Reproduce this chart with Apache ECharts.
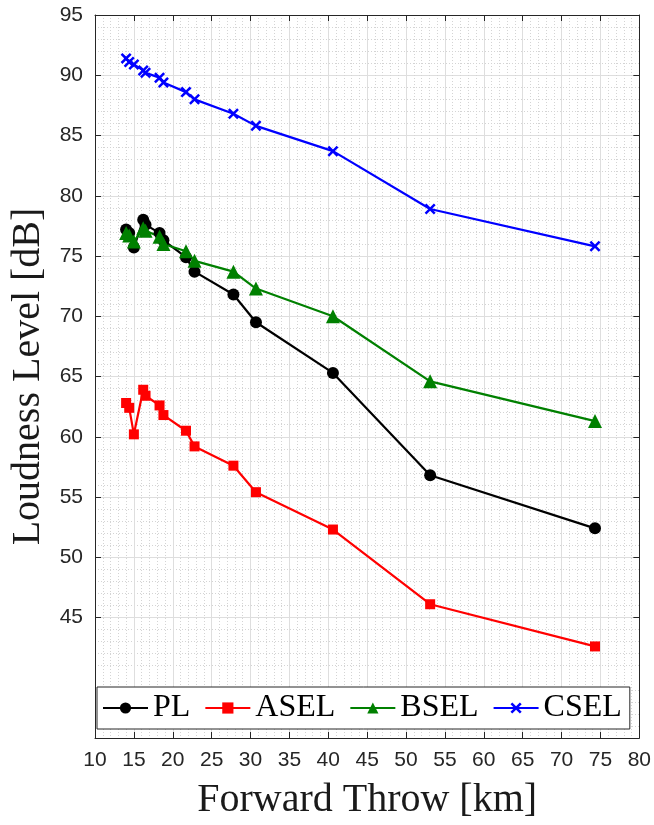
<!DOCTYPE html>
<html>
<head>
<meta charset="utf-8">
<script src="https://cdn.jsdelivr.net/npm/echarts@6/dist/echarts.min.js"></script>
<style>
  html, body { margin: 0; padding: 0; background: #ffffff; }
  #chart { width: 654px; height: 825px; }
</style>
</head>
<body>
<div id="chart"></div>
<script>
// Forward throw distance of each measurement station [km]
const throwKm = [14.0, 14.4, 15.0, 16.2, 16.5, 18.3, 18.8, 21.7, 22.8, 27.8, 30.7, 40.6, 53.1, 74.3];

// Loudness metrics at each station [dB]
const plValues   = [77.2, 76.9, 75.7, 78.0, 77.6, 76.9, 76.3, 74.9, 73.7, 71.8, 69.5, 65.3, 56.8, 52.4];
const aselValues = [62.8, 62.4, 60.2, 63.9, 63.4, 62.6, 61.8, 60.5, 59.2, 57.6, 55.4, 52.3, 46.1, 42.6];
const bselValues = [76.9, 76.7, 76.2, 77.3, 77.1, 76.6, 76.0, 75.4, 74.6, 73.7, 72.3, 70.0, 64.6, 61.3];
const cselValues = [91.4, 91.1, 90.9, 90.4, 90.2, 89.8, 89.4, 88.6, 88.0, 86.8, 85.8, 83.7, 78.9, 75.8];

const seriesNames = ['PL', 'ASEL', 'BSEL', 'CSEL'];

// Tick values shown on the axes
const xTickValues = [10, 15, 20, 25, 30, 35, 40, 45, 50, 55, 60, 65, 70, 75, 80];
const yTickValues = [45, 50, 55, 60, 65, 70, 75, 80, 85, 90, 95];

const axisColor = '#262626';
const sansFont = '"Liberation Sans", Arial, sans-serif';
const serifFont = '"Liberation Serif", "Times New Roman", serif';

// Filled "x" glyph used as the CSEL marker
const crossSymbol = 'path://M0,1.6L1.6,0L5,3.4L8.4,0L10,1.6L6.6,5L10,8.4L8.4,10L5,6.6L1.6,10L0,8.4L3.4,5Z';

function pairs(xs, ys) {
  return xs.map((x, i) => [x, ys[i]]);
}

function makeSeries(name, values, color, symbol, size) {
  return {
    name: name,
    type: 'line',
    data: pairs(throwKm, values),
    xAxisIndex: 0,
    yAxisIndex: 0,
    symbol: symbol,
    symbolSize: size,
    showAllSymbol: true,
    lineStyle: { color: color, width: 2.2 },
    itemStyle: { color: color, borderWidth: 0 },
    emphasis: { disabled: true },
    z: 3
  };
}

const baseX = {
  type: 'value',
  min: 10,
  max: 80,
  interval: 5,
  axisLine: { show: true, onZero: false, lineStyle: { color: axisColor, width: 1 } },
  axisTick: { show: true, inside: true, length: 6, lineStyle: { color: axisColor } }
};

const baseY = {
  type: 'value',
  min: 35,
  max: 95,
  interval: 5,
  axisLine: { show: true, onZero: false, lineStyle: { color: axisColor, width: 1 } },
  axisTick: { show: true, inside: true, length: 6, customValues: yTickValues, lineStyle: { color: axisColor } }
};

const option = {
  animation: false,
  backgroundColor: '#ffffff',
  grid: { left: 95, top: 15, right: 13, bottom: 84, containLabel: false },
  xAxis: [
    Object.assign({}, baseX, {
      position: 'bottom',
      name: 'Forward Throw [km]',
      nameLocation: 'middle',
      nameGap: 42,
      nameTextStyle: { fontFamily: serifFont, fontSize: 40, color: '#1a1a1a' },
      axisLabel: {
        show: true, margin: 12, fontFamily: sansFont, fontSize: 21, color: axisColor,
        customValues: xTickValues
      },
      splitLine: { show: true, lineStyle: { color: '#dedede', width: 1 } },
      minorTick: { show: false, splitNumber: 5 },
      minorSplitLine: { show: true, lineStyle: { color: '#d4d4d4', width: 1, type: [1, 2] } }
    }),
    Object.assign({}, baseX, {
      position: 'top',
      axisLabel: { show: false },
      splitLine: { show: false }
    })
  ],
  yAxis: [
    Object.assign({}, baseY, {
      position: 'left',
      name: 'Loudness Level [dB]',
      nameLocation: 'middle',
      nameGap: 46,
      nameTextStyle: { fontFamily: serifFont, fontSize: 40, color: '#1a1a1a' },
      axisLabel: {
        show: true, margin: 12, fontFamily: sansFont, fontSize: 21, color: axisColor,
        customValues: yTickValues
      },
      splitLine: { show: true, lineStyle: { color: '#dedede', width: 1 } },
      minorTick: { show: false, splitNumber: 5 },
      minorSplitLine: { show: true, lineStyle: { color: '#d4d4d4', width: 1, type: [1, 2] } }
    }),
    Object.assign({}, baseY, {
      position: 'right',
      axisLabel: { show: false },
      splitLine: { show: false }
    })
  ],
  legend: {
    data: seriesNames,
    left: 97,
    top: 687,
    orient: 'horizontal',
    itemWidth: 45,
    itemHeight: 14,
    itemGap: 14,
    padding: [5, 8, 5, 5],
    backgroundColor: '#ffffff',
    borderColor: axisColor,
    borderWidth: 1,
    borderRadius: 0,
    selectedMode: false,
    textStyle: { fontFamily: serifFont, fontSize: 32, color: '#000000' }
  },
  series: [
    makeSeries('PL', plValues, '#000000', 'circle', 12),
    makeSeries('ASEL', aselValues, '#ff0000', 'rect', 10),
    makeSeries('BSEL', bselValues, '#008000', 'triangle', 14),
    makeSeries('CSEL', cselValues, '#0000ff', crossSymbol, 11)
  ]
};

const chart = echarts.init(document.getElementById('chart'), null, { renderer: 'canvas' });
chart.setOption(option);
</script>
</body>
</html>
